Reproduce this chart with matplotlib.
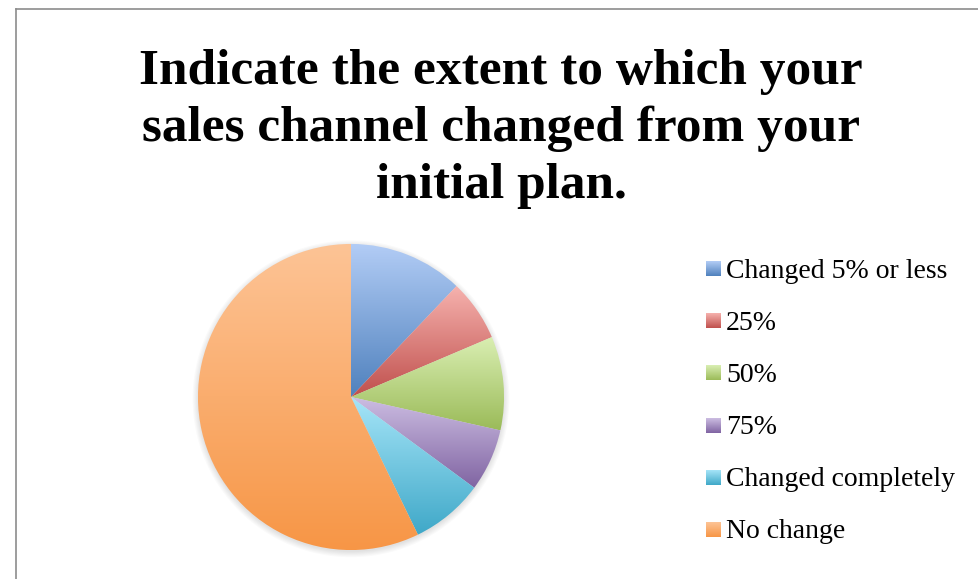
import numpy as np
import matplotlib
matplotlib.use('Agg')
import matplotlib.pyplot as plt
from matplotlib.colors import LinearSegmentedColormap
from matplotlib.lines import Line2D

# Dane (w %)
labels = ['Changed 5% or less', '25%', '50%', '75%', 'Changed completely', 'No change']
values = [12.1, 6.5, 9.9, 6.6, 7.7, 57.2]
top_colors = ['#B3CDF6', '#F6B2AE', '#DAEFB3', '#CCBDE2', '#A6E5F8', '#FDC496']
bottom_colors = ['#4F81BD', '#C0504D', '#9BBB59', '#8064A2', '#3FA8C8', '#F79646']

title = 'Indicate the extent to which your\nsales channel changed from your\ninitial plan.'

W, H = 979, 579
fig = plt.figure(figsize=(W / 100, H / 100), dpi=100)

# ramka wykresu
fig.add_artist(Line2D([16.5 / W, 16.5 / W], [0, 1 - 8.5 / H], color='#8c8c8c', lw=1.2))
fig.add_artist(Line2D([16.5 / W, 1], [1 - 8.5 / H, 1 - 8.5 / H], color='#8c8c8c', lw=1.2))

fig.text(501 / W, 1 - 129 / H, title, ha='center', va='center',
         fontsize=37, fontweight='bold', family='Liberation Serif', linespacing=1.31)

# ----------------------------------------------------------------------------------
# Wykres kołowy z gradientem
# ----------------------------------------------------------------------------------
cx, cy, r = 351, 397, 153
ax = fig.add_axes([(cx - r - 10) / W, (H - cy - r - 10) / H, (2 * r + 20) / W, (2 * r + 20) / H])
ax.set_aspect('equal')
ax.axis('off')

# cień pod kołem
for i in range(6):
    circ = plt.Circle((0.0, -0.012), 1.0 + 0.007 * i, color='black', alpha=0.02, lw=0)
    ax.add_patch(circ)

wedges, _ = ax.pie(values, startangle=90, counterclock=False, radius=1.0,
                   wedgeprops=dict(linewidth=0))

grad = np.linspace(0, 1, 256).reshape(-1, 1)
for w, ct, cb in zip(wedges, top_colors, bottom_colors):
    cmap = LinearSegmentedColormap.from_list('g', [ct, cb])
    w.set_facecolor('none')
    bb = w.get_path().get_extents(w.get_patch_transform())
    im = ax.imshow(grad, cmap=cmap, aspect='auto', origin='upper',
                   extent=[bb.x0, bb.x1, bb.y0, bb.y1], zorder=2, interpolation='bilinear')
    im.set_clip_path(w)

ax.set_xlim(-1.065, 1.065)
ax.set_ylim(-1.065, 1.065)

# ----------------------------------------------------------------------------------
# Legenda
# ----------------------------------------------------------------------------------
y0, dy = 271, 52.2
for i, (lab, ct, cb) in enumerate(zip(labels, top_colors, bottom_colors)):
    y = y0 + i * dy
    sq = fig.add_axes([706 / W, (H - y - 5) / H, 15 / W, 15 / H])
    sq.imshow(grad, cmap=LinearSegmentedColormap.from_list('g', [ct, cb]), aspect='auto')
    sq.axis('off')
    fig.text(726 / W, 1 - y / H, lab, ha='left', va='center', fontsize=20,
             family='Liberation Serif')

plt.savefig('out.png', dpi=100)
plt.close()
